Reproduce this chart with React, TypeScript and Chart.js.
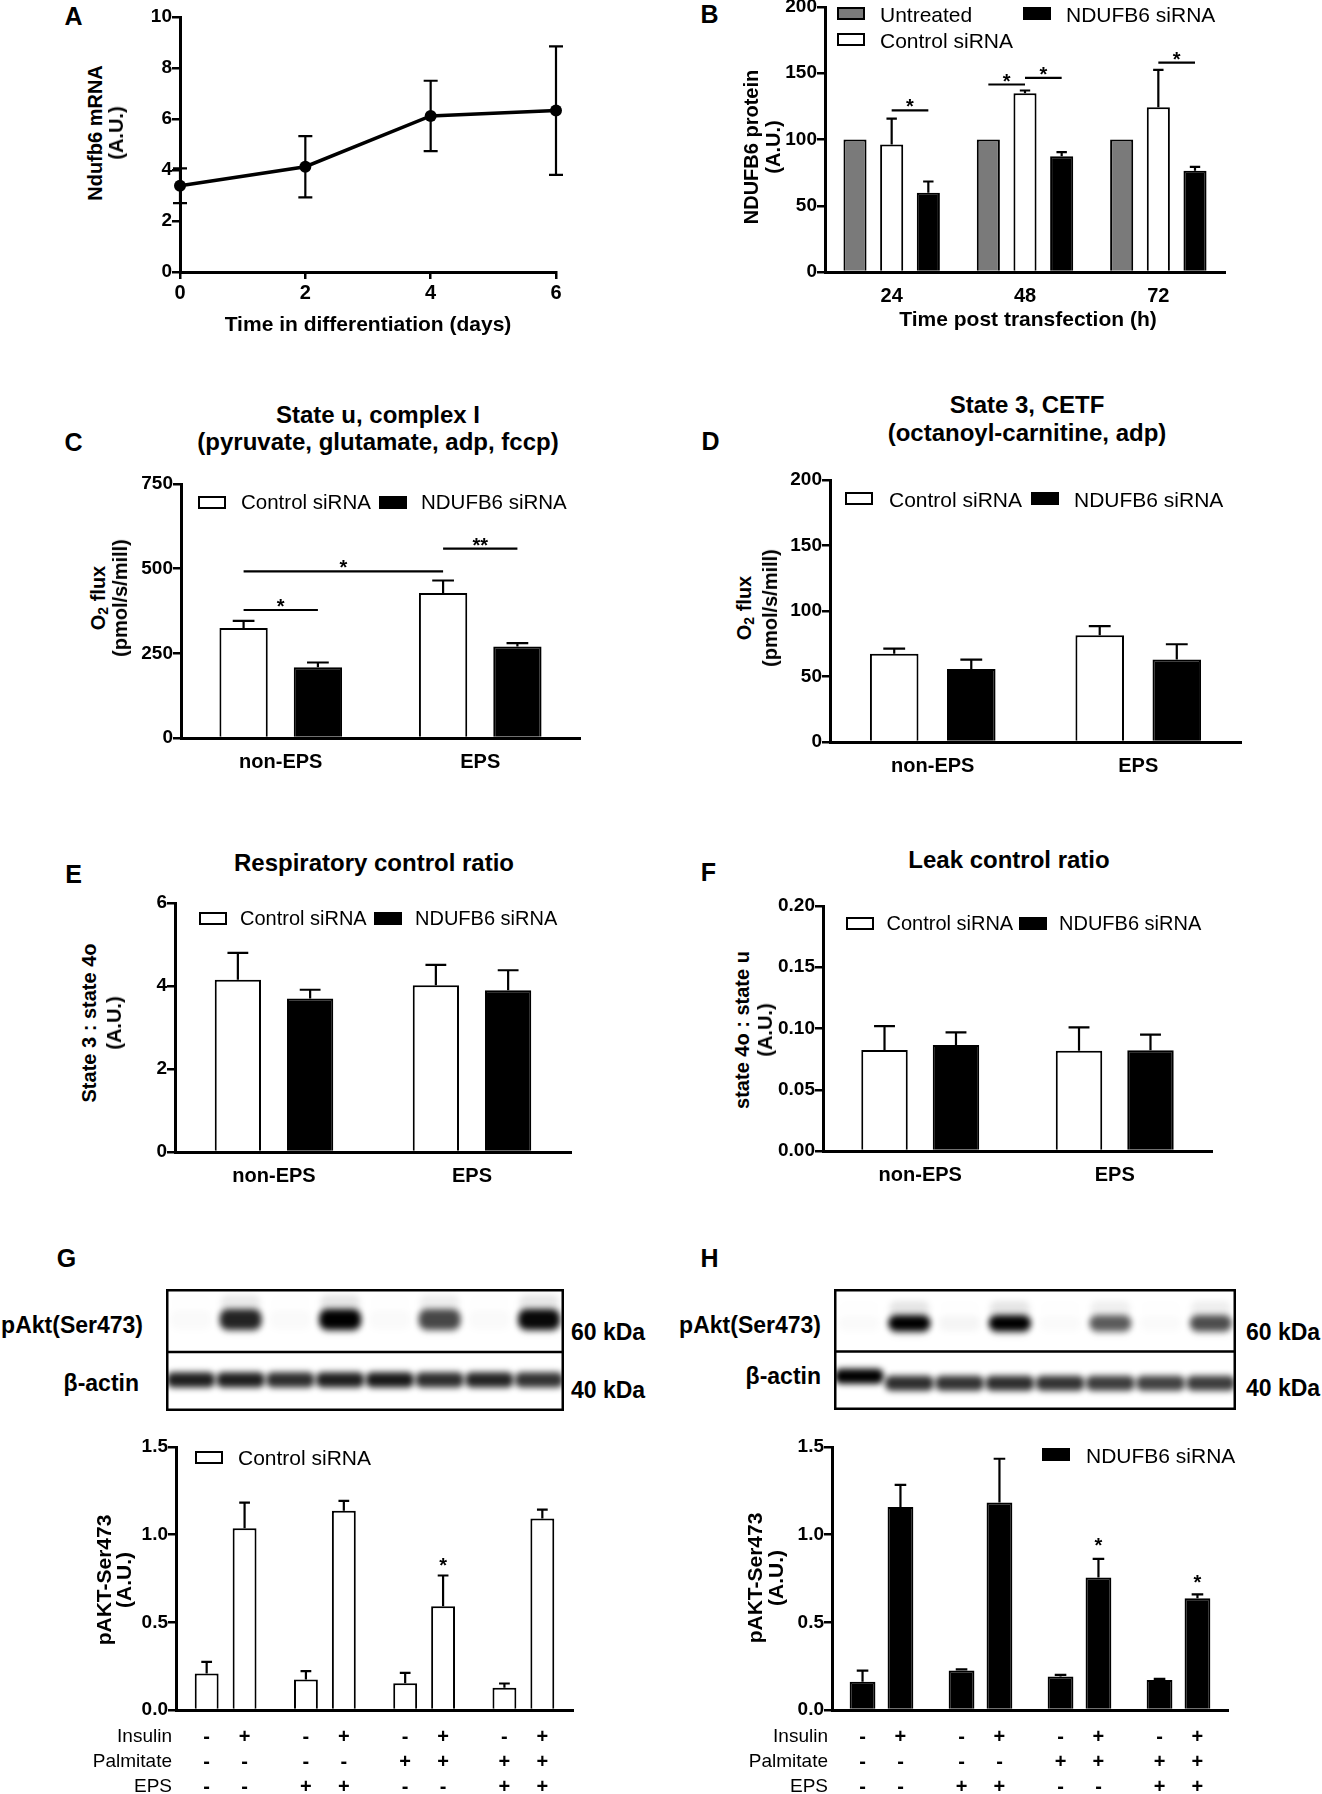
import { useEffect, useRef } from 'react';
import { Chart, registerables } from 'chart.js';

Chart.register(...registerables);

const FONT = "'Liberation Sans', Arial, Helvetica, sans-serif";
Chart.defaults.font.family = FONT;

// ---------- A: Ndufb6 mRNA during differentiation ----------
const diffDays = [0, 2, 4, 6];
const ndufb6Mrna = [3.38, 4.13, 6.12, 6.33];
const ndufb6MrnaSd = [0.68, 1.2, 1.38, 2.52];

// ---------- B: NDUFB6 protein after transfection ----------
const hoursPost = ['24', '48', '72'];
const untreatedProt = [100, 100, 100];
const controlProt = [96.3, 135, 124.3];
const controlProtErr = [19.5, 2, 28.3];
const knockdownProt = [59.8, 87.3, 76.4];
const knockdownProtErr = [8.5, 3.2, 3];
// [groupA, datasetA, groupB, datasetB, bracket height, mark]
const sigB = [
  [0, 1, 0, 2, 122, '*'],
  [1, 0, 1, 1, 141.5, '*'],
  [1, 1, 1, 2, 146.5, '*'],
  [2, 1, 2, 2, 158, '*'],
];

const epsGroups = ['non-EPS', 'EPS'];

// ---------- C: state u, complex I ----------
const stateUCtrl = [325, 428];
const stateUCtrlErr = [21, 37];
const stateUKd = [209, 270];
const stateUKdErr = [14, 10];
const sigC = [
  [0, 0, 0, 1, 378, '*'],
  [0, 0, 1, 0, 492, '*'],
  [1, 0, 1, 1, 559, '**'],
];

// ---------- D: state 3, CETF ----------
const cetfCtrl = [67.3, 81.5];
const cetfCtrlErr = [4, 6.9];
const cetfKd = [55.8, 62.9];
const cetfKdErr = [7.1, 11.7];

// ---------- E: respiratory control ratio ----------
const rcrCtrl = [4.15, 4.02];
const rcrCtrlErr = [0.65, 0.49];
const rcrKd = [3.7, 3.9];
const rcrKdErr = [0.21, 0.48];

// ---------- F: leak control ratio ----------
const lcrCtrl = [0.0824, 0.0819];
const lcrCtrlErr = [0.0196, 0.019];
const lcrKd = [0.0865, 0.0822];
const lcrKdErr = [0.0104, 0.0128];

// ---------- G / H: pAKT-Ser473 ----------
const conditionGroups = ['basal', 'EPS', 'palmitate', 'palmitate + EPS'];
const insulinSigns = ['-', '+'];
const palmitateSigns = ['-', '-', '+', '+'];
const epsSigns = ['-', '+', '-', '+'];

const ctrlNoIns = [0.208, 0.174, 0.153, 0.127];
const ctrlNoInsErr = [0.067, 0.048, 0.059, 0.024];
const ctrlIns = [1.036, 1.137, 0.592, 1.092];
const ctrlInsErr = [0.147, 0.056, 0.175, 0.051];
const starsG = [[2, 1, 0.85]];

const kdNoIns = [0.161, 0.225, 0.191, 0.171];
const kdNoInsErr = [0.064, 0.007, 0.009, 0.006];
const kdIns = [1.158, 1.184, 0.755, 0.638];
const kdInsErr = [0.126, 0.249, 0.107, 0.022];
const starsH = [[2, 1, 0.966], [3, 1, 0.751]];

// ---------- blots: band intensity per lane, migration in blot units (0 top .. 120 bottom) ----------
const blotLanes = ['1', '2', '3', '4', '5', '6', '7', '8'];
const pAktBandG = [0.02, 0.85, 0.02, 1, 0.02, 0.7, 0.02, 0.97];
const actinBandG = [0.88, 0.88, 0.82, 0.88, 0.9, 0.82, 0.86, 0.8];
const pAktBandH = [0.02, 1, 0.04, 1, 0.02, 0.62, 0.02, 0.68];
const actinBandH = [1, 0.82, 0.8, 0.82, 0.8, 0.76, 0.74, 0.76];
const pAktRangeG = [20, 40];
const actinTopG = [82, 82, 82, 82, 82, 82, 82, 82];
const pAktRangeH = [26, 42];
const actinTopH = [79, 86, 86, 86, 86, 86, 86, 86];
const actinThickness = 15;
const blotSplit = 62;

// ---------- plugins ----------
const errorBars = {
  id: 'errorBars',
  afterDatasetsDraw(chart: any) {
    const ctx = chart.ctx;
    chart.data.datasets.forEach((ds: any, di: number) => {
      if (!ds.errors) return;
      const meta = chart.getDatasetMeta(di);
      const ys = chart.scales[meta.yAxisID];
      ctx.save();
      ctx.strokeStyle = '#000';
      ctx.lineWidth = ds.errWidth ?? 2.2;
      meta.data.forEach((el: any, i: number) => {
        const raw = ds.data[i];
        const v = typeof raw === 'number' ? raw : raw.y;
        const e = ds.errors[i];
        if (!e) return;
        const top = ys.getPixelForValue(v + e);
        const bot = ds.errBoth ? ys.getPixelForValue(v - e) : el.y;
        const cap = ds.capWidth ?? el.width * 0.45;
        ctx.beginPath();
        ctx.moveTo(el.x, bot);
        ctx.lineTo(el.x, top);
        ctx.moveTo(el.x - cap / 2, top);
        ctx.lineTo(el.x + cap / 2, top);
        if (ds.errBoth) {
          ctx.moveTo(el.x - cap / 2, bot);
          ctx.lineTo(el.x + cap / 2, bot);
        }
        ctx.stroke();
      });
      ctx.restore();
    });
  },
};

function sigPlugin(items: any[]) {
  return {
    id: 'sigBrackets',
    afterDatasetsDraw(chart: any) {
      const ctx = chart.ctx;
      const ys = chart.scales.y;
      ctx.save();
      ctx.strokeStyle = '#000';
      ctx.fillStyle = '#000';
      ctx.lineWidth = 2.2;
      ctx.font = `bold 20px ${FONT}`;
      ctx.textAlign = 'center';
      ctx.textBaseline = 'alphabetic';
      items.forEach(([ga, da, gb, db, h, mark]) => {
        const x1 = chart.getDatasetMeta(da).data[ga].x;
        const x2 = chart.getDatasetMeta(db).data[gb].x;
        const py = ys.getPixelForValue(h);
        ctx.beginPath();
        ctx.moveTo(x1, py);
        ctx.lineTo(x2, py);
        ctx.stroke();
        ctx.fillText(mark, (x1 + x2) / 2, py + 3);
      });
      ctx.restore();
    },
  };
}

function starPlugin(items: any[]) {
  return {
    id: 'stars',
    afterDatasetsDraw(chart: any) {
      const ctx = chart.ctx;
      ctx.save();
      ctx.fillStyle = '#000';
      ctx.font = `bold 20px ${FONT}`;
      ctx.textAlign = 'center';
      items.forEach(([g, d, v]) => {
        const el = chart.getDatasetMeta(d).data[g];
        ctx.fillText('*', el.x, chart.scales.y.getPixelForValue(v) + 11);
      });
      ctx.restore();
    },
  };
}

const treatmentRows = {
  id: 'treatmentRows',
  afterDraw(chart: any) {
    const ctx = chart.ctx;
    const a = chart.chartArea;
    const rows: [string, (g: number, d: number) => string][] = [
      ['Insulin', (_g, d) => insulinSigns[d]],
      ['Palmitate', (g) => palmitateSigns[g]],
      ['EPS', (g) => epsSigns[g]],
    ];
    ctx.save();
    ctx.fillStyle = '#000';
    ctx.textBaseline = 'middle';
    rows.forEach(([label, sign], r) => {
      const y = a.bottom + 27 + r * 25;
      ctx.font = `19px ${FONT}`;
      ctx.textAlign = 'right';
      ctx.fillText(label, a.left - 4, y);
      ctx.font = `bold 20px ${FONT}`;
      ctx.textAlign = 'center';
      for (let d = 0; d < 2; d++) {
        chart.getDatasetMeta(d).data.forEach((el: any, g: number) => {
          ctx.fillText(sign(g, d), el.x, y);
        });
      }
    });
    ctx.restore();
  },
};

const blurBands = {
  id: 'blurBands',
  beforeDatasetsDraw(chart: any) {
    chart.ctx.save();
    chart.ctx.filter = 'blur(3px)';
  },
  afterDatasetsDraw(chart: any) {
    chart.ctx.restore();
  },
};

const blotFrame = {
  id: 'blotFrame',
  afterDraw(chart: any) {
    const ctx = chart.ctx;
    const a = chart.chartArea;
    const sy = chart.scales.y.getPixelForValue(blotSplit);
    ctx.save();
    ctx.strokeStyle = '#000';
    ctx.lineWidth = 2.5;
    ctx.strokeRect(a.left + 1.25, a.top + 1.25, a.right - a.left - 2.5, a.bottom - a.top - 2.5);
    ctx.beginPath();
    ctx.moveTo(a.left, sy);
    ctx.lineTo(a.right, sy);
    ctx.stroke();
    ctx.restore();
  },
};

// ---------- scale helpers ----------
const tickFont = { family: FONT, size: 19, weight: 'bold' as const };
const catFont = { family: FONT, size: 20, weight: 'bold' as const };

function yAxis(min: number, max: number, step: number, yW: number, digits = 0) {
  return {
    min,
    max,
    ticks: {
      stepSize: step,
      font: tickFont,
      color: '#000',
      padding: 0,
      callback: (v: any) => Number(v).toFixed(digits),
    },
    grid: { drawOnChartArea: false, color: '#000', lineWidth: 2.5, tickLength: 8 },
    border: { color: '#000', width: 3 },
    afterFit: (s: any) => {
      s.width = yW;
    },
  };
}

function catAxis(xH: number, showLabels = true) {
  return {
    ticks: { display: showLabels, font: catFont, color: '#000', padding: 4 },
    grid: { display: false },
    border: { color: '#000', width: 3 },
    afterFit: (s: any) => {
      s.height = xH;
    },
  };
}

function barSet(data: number[], errors: number[], fill: string, c: number, b: number) {
  return {
    data,
    errors,
    backgroundColor: fill,
    borderColor: '#000',
    borderWidth: 2,
    categoryPercentage: c,
    barPercentage: b,
  };
}

const WHITE = '#ffffff';
const BLACK = '#000000';
const GREY = '#7a7a7a';

type Area = { l: number; t: number; r: number; b: number };

function ChartCanvas({ area, yW, xH, padT = 14, padR = 14, make }: {
  area: Area; yW: number; xH: number; padT?: number; padR?: number; make: () => any;
}) {
  const ref = useRef<HTMLCanvasElement | null>(null);
  const inst = useRef<Chart | null>(null);
  const w = Math.round(area.r - area.l + yW + padR);
  const h = Math.round(area.b - area.t + padT + xH);

  useEffect(() => {
    if (inst.current) inst.current.destroy();
    if (ref.current) {
      const cfg = make();
      cfg.options = cfg.options || {};
      cfg.options.animation = false;
      cfg.options.responsive = false;
      cfg.options.layout = { padding: { top: padT, right: padR, left: 0, bottom: 0 } };
      cfg.options.plugins = { ...(cfg.options.plugins || {}), legend: { display: false }, tooltip: { enabled: false } };
      inst.current = new Chart(ref.current, cfg);
    }
    return () => {
      if (inst.current) {
        inst.current.destroy();
        inst.current = null;
      }
    };
  }, []);

  return (
    <canvas
      ref={ref}
      width={w}
      height={h}
      style={{ position: 'absolute', left: Math.round(area.l - yW), top: Math.round(area.t - padT), width: w, height: h, display: 'block' }}
    />
  );
}

function BlotCanvas({ area, make }: { area: Area; make: () => any }) {
  return <ChartCanvas area={area} yW={0} xH={0} padT={0} padR={0} make={make} />;
}

function blotConfig(pakt: number[], pRange: number[], actin: number[], actinTop: number[]) {
  const common = { grouped: false, categoryPercentage: 1, borderSkipped: false };
  return {
    type: 'bar',
    data: {
      labels: blotLanes,
      datasets: [
        {
          ...common,
          data: pakt.map(() => [pRange[0] - 14, pRange[1] + 4]),
          backgroundColor: pakt.map((v) => `rgba(0,0,0,${(v * 0.1).toFixed(3)})`),
          barPercentage: 0.78,
          borderRadius: 6,
        },
        {
          ...common,
          data: pakt.map(() => pRange),
          backgroundColor: pakt.map((v) => `rgba(0,0,0,${v})`),
          barPercentage: 0.84,
          borderRadius: 8,
        },
        {
          ...common,
          data: actinTop.map((t) => [t, t + actinThickness]),
          backgroundColor: actin.map((v) => `rgba(0,0,0,${v})`),
          barPercentage: 0.97,
          borderRadius: 6,
        },
      ],
    },
    options: {
      scales: {
        x: { display: false, offset: true },
        y: { display: false, min: 0, max: 120, reverse: true },
      },
    },
    plugins: [blurBands, blotFrame],
  };
}

// ---------- text helpers ----------
function Txt({ x, y, children, size = 20, bold = true, align = 'center' }: any) {
  const tx = align === 'center' ? '-50%' : align === 'right' ? '-100%' : '0';
  return (
    <div
      style={{
        position: 'absolute',
        left: x,
        top: y,
        transform: `translate(${tx}, -50%)`,
        fontSize: size,
        fontWeight: bold ? 700 : 400,
        lineHeight: 1,
        whiteSpace: 'nowrap',
        color: '#000',
      }}
    >
      {children}
    </div>
  );
}

function VTxt({ x, y, children, size = 20 }: any) {
  return (
    <div
      style={{
        position: 'absolute',
        left: x,
        top: y,
        transform: 'translate(-50%, -50%) rotate(-90deg)',
        fontSize: size,
        fontWeight: 700,
        lineHeight: 1,
        whiteSpace: 'nowrap',
        color: '#000',
      }}
    >
      {children}
    </div>
  );
}

function Key({ x, cy, fill, textX, label, size = 21 }: any) {
  return (
    <>
      <div
        style={{
          position: 'absolute',
          left: x,
          top: cy - 6.5,
          width: 28,
          height: 13,
          boxSizing: 'border-box',
          border: '2px solid #000',
          background: fill,
        }}
      />
      <Txt x={textX} y={cy} size={size} bold={false} align="left">
        {label}
      </Txt>
    </>
  );
}

const O2 = () => (
  <>
    O<sub style={{ fontSize: 14, verticalAlign: '-3px' }}>2</sub> flux
  </>
);

// ---------- chart areas ----------
const areaA = { l: 180, t: 17, r: 556, b: 272 };
const areaB = { l: 825, t: 7, r: 1225, b: 272 };
const areaC = { l: 181, t: 484, r: 580, b: 738 };
const areaD = { l: 830, t: 480, r: 1241, b: 742 };
const areaE = { l: 175, t: 903, r: 571, b: 1152 };
const areaF = { l: 823, t: 906, r: 1212, b: 1151 };
const areaG = { l: 176, t: 1447, r: 573, b: 1710 };
const areaH = { l: 832, t: 1447, r: 1228, b: 1710 };
const blotG = { l: 166, t: 1289, r: 564, b: 1411 };
const blotH = { l: 834, t: 1289, r: 1236, b: 1410 };

function pairBars(labels: string[], ctrl: number[], ctrlErr: number[], kd: number[], kdErr: number[], c: number, b: number, y: any, extra: any[] = []) {
  return {
    type: 'bar',
    data: {
      labels,
      datasets: [barSet(ctrl, ctrlErr, WHITE, c, b), barSet(kd, kdErr, BLACK, c, b)],
    },
    options: { scales: { x: catAxis(50), y } },
    plugins: [errorBars, ...extra],
  };
}

export default function App() {
  useEffect(() => {
    document.body.style.margin = '0';
  }, []);

  return (
    <div
      style={{
        position: 'relative',
        width: 1322,
        height: 1794,
        overflow: 'hidden',
        background: '#fff',
        fontFamily: FONT,
        color: '#000',
      }}
    >
      {/* A */}
      <ChartCanvas
        area={areaA}
        yW={70}
        xH={50}
        make={() => ({
          type: 'line',
          data: {
            datasets: [
              {
                data: diffDays.map((d, i) => ({ x: d, y: ndufb6Mrna[i] })),
                borderColor: '#000',
                borderWidth: 3.5,
                pointRadius: 6,
                pointBackgroundColor: '#000',
                pointBorderWidth: 0,
                tension: 0,
                clip: false,
                errors: ndufb6MrnaSd,
                errBoth: true,
                capWidth: 14,
              },
            ],
          },
          options: {
            scales: {
              x: {
                type: 'linear',
                min: 0,
                max: 6,
                ticks: { stepSize: 2, font: catFont, color: '#000', padding: 2 },
                grid: { drawOnChartArea: false, color: '#000', lineWidth: 2.5, tickLength: 7 },
                border: { color: '#000', width: 3 },
                afterFit: (s: any) => {
                  s.height = 50;
                },
              },
              y: yAxis(0, 10, 2, 70),
            },
          },
          plugins: [errorBars],
        })}
      />
      <Txt x={73.5} y={16} size={25}>A</Txt>
      <VTxt x={95} y={133}>Ndufb6 mRNA</VTxt>
      <VTxt x={116} y={133}>(A.U.)</VTxt>
      <Txt x={368} y={323} size={21}>Time in differentiation (days)</Txt>

      {/* B */}
      <ChartCanvas
        area={areaB}
        yW={70}
        xH={50}
        padT={12}
        make={() => ({
          type: 'bar',
          data: {
            labels: hoursPost,
            datasets: [
              barSet(untreatedProt, [0, 0, 0], GREY, 0.825, 0.63),
              barSet(controlProt, controlProtErr, WHITE, 0.825, 0.63),
              barSet(knockdownProt, knockdownProtErr, BLACK, 0.825, 0.63),
            ],
          },
          options: { scales: { x: catAxis(50), y: yAxis(0, 200, 50, 70) } },
          plugins: [errorBars, sigPlugin(sigB)],
        })}
      />
      <Txt x={709.5} y={14} size={25}>B</Txt>
      <VTxt x={751} y={147}>NDUFB6 protein</VTxt>
      <VTxt x={773} y={147}>(A.U.)</VTxt>
      <Txt x={1028} y={318} size={21}>Time post transfection (h)</Txt>
      <Key x={837} cy={13.5} fill={GREY} textX={880} label="Untreated" />
      <Key x={837} cy={39.5} fill={WHITE} textX={880} label="Control siRNA" />
      <Key x={1023} cy={13.5} fill={BLACK} textX={1066} label="NDUFB6 siRNA" />

      {/* C */}
      <ChartCanvas
        area={areaC}
        yW={70}
        xH={50}
        make={() =>
          pairBars(epsGroups, stateUCtrl, stateUCtrlErr, stateUKd, stateUKdErr, 0.745, 0.65, yAxis(0, 750, 250, 70), [sigPlugin(sigC)])
        }
      />
      <Txt x={73.5} y={441.5} size={25}>C</Txt>
      <Txt x={378} y={415} size={24}>State u, complex I</Txt>
      <Txt x={378} y={442} size={24}>(pyruvate, glutamate, adp, fccp)</Txt>
      <VTxt x={99} y={598}><O2 /></VTxt>
      <VTxt x={120} y={598}>(pmol/s/mill)</VTxt>
      <Key x={198} cy={502} fill={WHITE} textX={241} label="Control siRNA" size={20.5} />
      <Key x={379} cy={502} fill={BLACK} textX={421} label="NDUFB6 siRNA" size={20.5} />

      {/* D */}
      <ChartCanvas
        area={areaD}
        yW={70}
        xH={50}
        make={() => pairBars(epsGroups, cetfCtrl, cetfCtrlErr, cetfKd, cetfKdErr, 0.75, 0.63, yAxis(0, 200, 50, 70))}
      />
      <Txt x={710.5} y={441} size={25}>D</Txt>
      <Txt x={1027} y={405} size={24}>State 3, CETF</Txt>
      <Txt x={1027} y={433} size={24}>(octanoyl-carnitine, adp)</Txt>
      <VTxt x={745} y={608}><O2 /></VTxt>
      <VTxt x={770} y={608}>(pmol/s/mill)</VTxt>
      <Key x={845} cy={498.5} fill={WHITE} textX={889} label="Control siRNA" />
      <Key x={1031} cy={498.5} fill={BLACK} textX={1074} label="NDUFB6 siRNA" />

      {/* E */}
      <ChartCanvas
        area={areaE}
        yW={70}
        xH={50}
        make={() => pairBars(epsGroups, rcrCtrl, rcrCtrlErr, rcrKd, rcrKdErr, 0.73, 0.64, yAxis(0, 6, 2, 70))}
      />
      <Txt x={73.5} y={873.5} size={25}>E</Txt>
      <Txt x={374} y={863} size={24}>Respiratory control ratio</Txt>
      <VTxt x={88.5} y={1023}>State 3 : state 4o</VTxt>
      <VTxt x={114} y={1023}>(A.U.)</VTxt>
      <Key x={199} cy={918} fill={WHITE} textX={240} label="Control siRNA" size={20} />
      <Key x={374} cy={918} fill={BLACK} textX={415} label="NDUFB6 siRNA" size={20} />

      {/* F */}
      <ChartCanvas
        area={areaF}
        yW={70}
        xH={50}
        make={() => pairBars(epsGroups, lcrCtrl, lcrCtrlErr, lcrKd, lcrKdErr, 0.735, 0.65, yAxis(0, 0.2, 0.05, 70, 2))}
      />
      <Txt x={708.5} y={871.5} size={25}>F</Txt>
      <Txt x={1009} y={860} size={24}>Leak control ratio</Txt>
      <VTxt x={742} y={1030}>state 4o : state u</VTxt>
      <VTxt x={765} y={1030}>(A.U.)</VTxt>
      <Key x={846} cy={923} fill={WHITE} textX={886.5} label="Control siRNA" size={20} />
      <Key x={1018.5} cy={923} fill={BLACK} textX={1059} label="NDUFB6 siRNA" size={20} />

      {/* G */}
      <Txt x={66.5} y={1258} size={25}>G</Txt>
      <BlotCanvas area={blotG} make={() => blotConfig(pAktBandG, pAktRangeG, actinBandG, actinTopG)} />
      <Txt x={143} y={1325} size={23} align="right">pAkt(Ser473)</Txt>
      <Txt x={139} y={1383} size={23} align="right">β-actin</Txt>
      <Txt x={571} y={1332} size={23} align="left">60 kDa</Txt>
      <Txt x={571} y={1390} size={23} align="left">40 kDa</Txt>
      <ChartCanvas
        area={areaG}
        yW={176}
        xH={84}
        make={() => ({
          type: 'bar',
          data: {
            labels: conditionGroups,
            datasets: [
              barSet(ctrlNoIns, ctrlNoInsErr, WHITE, 0.764, 0.63),
              barSet(ctrlIns, ctrlInsErr, WHITE, 0.764, 0.63),
            ],
          },
          options: { scales: { x: catAxis(84, false), y: yAxis(0, 1.5, 0.5, 176, 1) } },
          plugins: [errorBars, starPlugin(starsG), treatmentRows],
        })}
      />
      <VTxt x={103} y={1580} size={21}>pAKT-Ser473</VTxt>
      <VTxt x={123} y={1580} size={21}>(A.U.)</VTxt>
      <Key x={195} cy={1457} fill={WHITE} textX={238} label="Control siRNA" />

      {/* H */}
      <Txt x={709.5} y={1258} size={25}>H</Txt>
      <BlotCanvas area={blotH} make={() => blotConfig(pAktBandH, pAktRangeH, actinBandH, actinTopH)} />
      <Txt x={821} y={1325} size={23} align="right">pAkt(Ser473)</Txt>
      <Txt x={821} y={1376} size={23} align="right">β-actin</Txt>
      <Txt x={1246} y={1332} size={23} align="left">60 kDa</Txt>
      <Txt x={1246} y={1388} size={23} align="left">40 kDa</Txt>
      <ChartCanvas
        area={areaH}
        yW={100}
        xH={84}
        make={() => ({
          type: 'bar',
          data: {
            labels: conditionGroups,
            datasets: [
              barSet(kdNoIns, kdNoInsErr, BLACK, 0.766, 0.68),
              barSet(kdIns, kdInsErr, BLACK, 0.766, 0.68),
            ],
          },
          options: { scales: { x: catAxis(84, false), y: yAxis(0, 1.5, 0.5, 100, 1) } },
          plugins: [errorBars, starPlugin(starsH), treatmentRows],
        })}
      />
      <VTxt x={754} y={1578} size={21}>pAKT-Ser473</VTxt>
      <VTxt x={775} y={1578} size={21}>(A.U.)</VTxt>
      <Key x={1042} cy={1454.5} fill={BLACK} textX={1086} label="NDUFB6 siRNA" />
    </div>
  );
}
